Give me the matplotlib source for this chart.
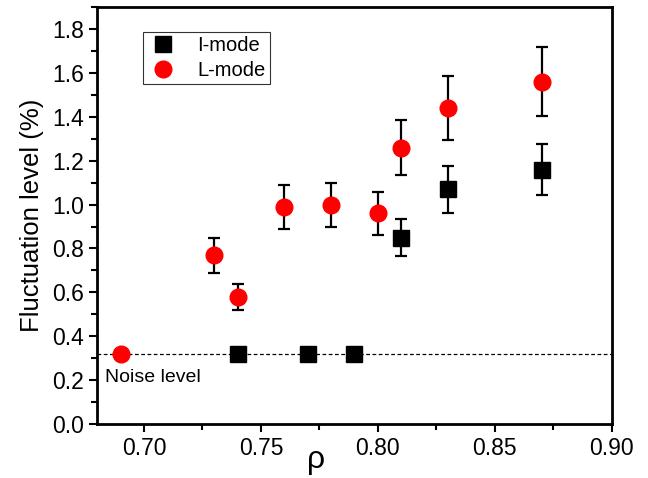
import matplotlib.pyplot as plt
from matplotlib.ticker import MultipleLocator
from matplotlib.lines import Line2D

plt.rcParams['font.family'] = ['Liberation Sans', 'DejaVu Sans']

# I-mode data
i_rho = [0.74, 0.77, 0.79, 0.81, 0.83, 0.87]
i_level = [0.32, 0.32, 0.32, 0.85, 1.07, 1.16]
i_err = [0, 0, 0, 0.084, 0.107, 0.117]

# L-mode data
l_rho = [0.69, 0.73, 0.74, 0.76, 0.78, 0.80, 0.81, 0.83, 0.87]
l_level = [0.32, 0.77, 0.58, 0.99, 1.00, 0.96, 1.26, 1.44, 1.56]
l_err = [0, 0.08, 0.06, 0.10, 0.10, 0.097, 0.127, 0.145, 0.157]

noise = 0.32

fig = plt.figure(figsize=(6.48, 4.78), dpi=100)
ax = fig.add_axes([0.150, 0.113, 0.794, 0.872])

ax.axhline(noise, color='black', lw=0.9, ls=(0, (3, 2)), zorder=1)

i_yerr = [e if e > 0 else float('nan') for e in i_err]
l_yerr = [e if e > 0 else float('nan') for e in l_err]

ax.errorbar(i_rho, i_level, yerr=i_yerr, fmt='s', color='black', ms=11,
            ecolor='black', elinewidth=1.6, capsize=4.5, capthick=1.6,
            zorder=3)
ax.errorbar(l_rho, l_level, yerr=l_yerr, fmt='o', color='red', ms=12,
            ecolor='black', elinewidth=1.6, capsize=4.5, capthick=1.6,
            zorder=3)

ax.text(0.6835, 0.21, 'Noise level', fontsize=14, va='center', ha='left')

ax.set_xlim(0.68, 0.90)
ax.set_ylim(0, 1.9)
ax.xaxis.set_major_locator(MultipleLocator(0.05))
ax.xaxis.set_minor_locator(MultipleLocator(0.025))
ax.yaxis.set_major_locator(MultipleLocator(0.2))
ax.yaxis.set_minor_locator(MultipleLocator(0.1))
ax.xaxis.set_major_formatter(plt.FormatStrFormatter('%.2f'))
ax.yaxis.set_major_formatter(plt.FormatStrFormatter('%.1f'))
ax.tick_params(which='both', direction='out', width=1.5, labelsize=16.5)
ax.tick_params(which='major', length=6)
ax.tick_params(which='minor', length=4)
for s in ax.spines.values():
    s.set_linewidth(2)

# x label sits low, right at the bottom edge
fig.text(316 / 648, 1 - 468 / 478, 'ρ', fontsize=23, ha='center', va='baseline')
ax.set_ylabel('Fluctuation level (%)', fontsize=18.5, labelpad=6)

handles = [Line2D([], [], ls='none', marker='s', color='black', ms=11),
           Line2D([], [], ls='none', marker='o', color='red', ms=12)]
leg = ax.legend(handles, ['I-mode', 'L-mode'], loc='upper left',
                bbox_to_anchor=(0.089, 0.94), borderaxespad=0, fontsize=14.5,
                frameon=True, fancybox=False, edgecolor='black',
                handlelength=1.6, handletextpad=0.9, borderpad=0.2,
                labelspacing=0.3)
leg.get_frame().set_linewidth(0.8)

fig.savefig('out.png', dpi=100)
